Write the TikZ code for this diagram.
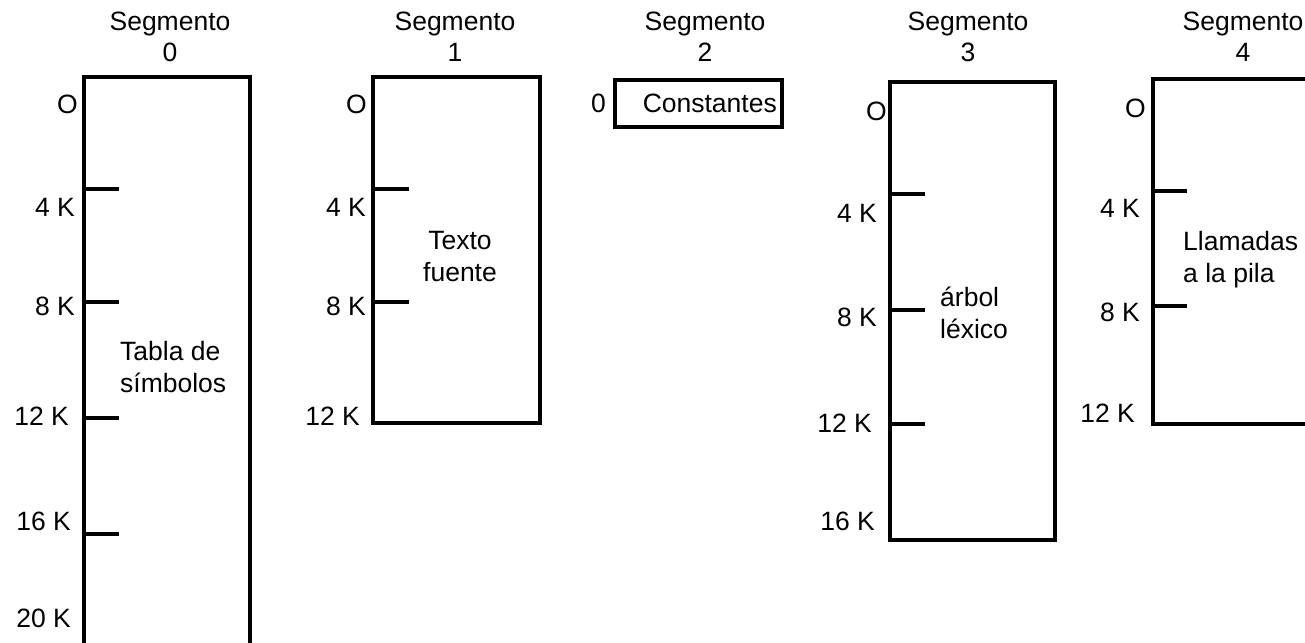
\documentclass[tikz,border=0pt]{standalone}
\usepackage{fontspec}
\setmainfont{Liberation Sans}
\begin{document}
\begin{tikzpicture}[x=1pt,y=-1pt,
  txt/.style={inner sep=0pt, font=\fontsize{26.5}{32}\selectfont},
  seg/.style={line width=3.2pt, line join=miter},
  tick/.style={line width=3.2pt},
  addr/.style={txt, anchor=base east},
  title/.style={txt, anchor=base, align=center},
  body/.style={txt, anchor=base west, align=left},
  bodyc/.style={txt, anchor=base, align=center}]
\useasboundingbox (0,0) rectangle (1305,642);

% Segment 0: symbol table (runs past the lower edge)
\node[title] (t0) at (170,62) {Segmento\\0};
\draw[seg] (84,660) -- (84,77) -- (250,77) -- (250,660);
\foreach \y in {189,302,418,534} \draw[tick] (84,\y) -- (119,\y);
\node[addr] (s0o)  at (78,113)  {O};
\node[addr] (s0a)  at (75,216)  {4 K};
\node[addr] (s0b)  at (75,315)  {8 K};
\node[addr] (s0c)  at (69,425)  {12 K};
\node[addr] (s0d)  at (71,530)  {16 K};
\node[addr] (s0e)  at (71,627)  {20 K};
\node[body] (s0t)  at (120,392) {Tabla de\\símbolos};

% Segment 1: source text
\node[title] (t1) at (455,62) {Segmento\\1};
\draw[seg] (373,77) rectangle (540,423);
\foreach \y in {189,302} \draw[tick] (373,\y) -- (409,\y);
\node[addr] (s1o)  at (367,113) {O};
\node[addr] (s1a)  at (366,216) {4 K};
\node[addr] (s1b)  at (366,315) {8 K};
\node[addr] (s1c)  at (360,425) {12 K};
\node[bodyc] (s1t) at (460,281) {Texto\\fuente};

% Segment 2: constants
\node[title] (t2) at (705,62) {Segmento\\2};
\draw[seg] (615,80) rectangle (782,127);
\node[addr] (s2o)  at (606,112) {0};
\node[addr] (s2t)  at (777,112) {Constantes};

% Segment 3: parse tree
\node[title] (t3) at (968,62) {Segmento\\3};
\draw[seg] (890,82) rectangle (1055,540);
\foreach \y in {194,310,424} \draw[tick] (890,\y) -- (925,\y);
\node[addr] (s3o)  at (887,120) {O};
\node[addr] (s3a)  at (877,222) {4 K};
\node[addr] (s3b)  at (877,326) {8 K};
\node[addr] (s3c)  at (872,432) {12 K};
\node[addr] (s3d)  at (875,530) {16 K};
\node[body] (s3t)  at (940,338) {árbol\\léxico};

% Segment 4: call stack (runs past the right edge)
\node[title] (t4) at (1243,62) {Segmento\\4};
\draw[seg] (1320,79) -- (1153,79) -- (1153,424) -- (1320,424);
\foreach \y in {191,306} \draw[tick] (1153,\y) -- (1187,\y);
\node[addr] (s4o)  at (1146,117) {O};
\node[addr] (s4a)  at (1140,217) {4 K};
\node[addr] (s4b)  at (1140,321) {8 K};
\node[addr] (s4c)  at (1135,422) {12 K};
\node[body] (s4t)  at (1183,282) {Llamadas\\a la pila};
\end{tikzpicture}
\end{document}
